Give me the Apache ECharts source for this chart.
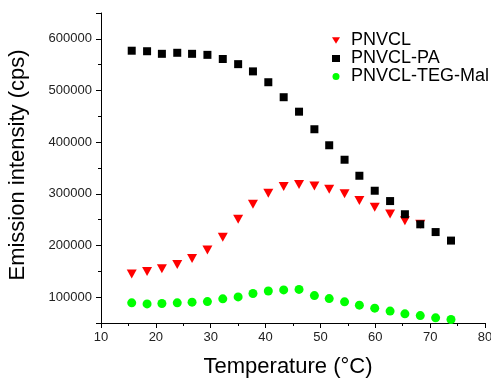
<!DOCTYPE html>
<html>
<head>
<meta charset="utf-8">
<script src="https://cdn.jsdelivr.net/npm/echarts@6/dist/echarts.min.js"></script>
<style>
html, body { margin: 0; padding: 0; background: #fff; }
#main { width: 491px; height: 381px; }
</style>
</head>
<body>
<div id="main"></div>
<script>
'use strict';
var temps = [15.6, 18.4, 21.1, 23.9, 26.6, 29.4, 32.2, 35.0, 37.7, 40.5, 43.3,
	46.1, 48.9, 51.6, 54.4, 57.1, 59.9, 62.7, 65.4, 68.2, 71.0, 73.8];
var pnvcl = [145000, 149500, 155000, 163000, 175000, 191500, 216000, 251000, 280000, 301000,
	314000, 318000, 315000, 309000, 300000, 287000, 274000, 261000, 248000, 241000];
var pnvclPa = [577000, 576000, 571000, 573000, 571000, 569000, 561000, 551000, 537000, 516000,
	487000, 459000, 425000, 394000, 366000, 335000, 306000, 286000, 260500, 241000, 226000, 209500];
var pnvclTeg = [89000, 87000, 87700, 89000, 90300, 91500, 96700, 100500, 107000, 112000, 114000,
	115000, 103000, 97300, 91000, 84500, 78700, 73000, 67700, 64400, 60000, 56700];
var names = ['PNVCL', 'PNVCL-PA', 'PNVCL-TEG-Mal'];

function pairs(vals) {
	return vals.map(function (v, i) { return [temps[i], v]; });
}

var font = 'Liberation Sans, Arial, sans-serif';
var chart = echarts.init(document.getElementById('main'));
chart.setOption({
	animation: false,
	textStyle: { fontFamily: font },
	grid: { left: 101, right: 6, top: 13, bottom: 58, containLabel: false, outerBoundsMode: 'none' },
	legend: {
		orient: 'vertical',
		left: 332,
		top: 31.5,
		padding: 0,
		itemGap: 0,
		itemWidth: 8,
		itemHeight: 7,
		textStyle: { fontSize: 18, color: '#000', fontFamily: font, lineHeight: 17, padding: [0, 0, 0, 6] },
		data: [
			{ name: names[0], icon: 'path://M0,0L10,0L5,8Z' },
			{ name: names[1], icon: 'rect' },
			{ name: names[2], icon: 'circle' }
		]
	},
	xAxis: {
		type: 'value',
		min: 10,
		max: 80,
		interval: 10,
		name: 'Temperature (°C)',
		nameLocation: 'middle',
		nameGap: 33,
		nameTextStyle: { fontSize: 22, color: '#000', fontFamily: font, padding: [0, 10, 0, 0] },
		axisLine: { lineStyle: { color: '#000', width: 1 } },
		axisTick: { length: 5, lineStyle: { color: '#000' } },
		minorTick: { show: true, splitNumber: 2, length: 3, lineStyle: { color: '#000' } },
		axisLabel: { fontSize: 13, color: '#222', margin: 8, fontFamily: font },
		splitLine: { show: false }
	},
	yAxis: [{
		type: 'value',
		min: 50000,
		max: 650000,
		splitNumber: 6,
		name: 'Emission intensity (cps)',
		nameLocation: 'middle',
		nameGap: 72,
		nameTextStyle: { fontSize: 22, color: '#000', fontFamily: font, padding: [0, 0, 0, 6] },
		axisLine: { show: true, lineStyle: { color: '#000', width: 1 } },
		axisTick: { show: true, length: 5, lineStyle: { color: '#000' } },
		axisLabel: {
			fontSize: 13, color: '#222', margin: 9, fontFamily: font,
			formatter: function (v) { return v % 100000 === 0 ? String(v) : ''; }
		},
		splitLine: { show: false }
	}, {
		type: 'value',
		position: 'left',
		min: 50000,
		max: 650000,
		interval: 100000,
		axisLine: { show: false },
		axisTick: { show: true, length: 3, lineStyle: { color: '#000' } },
		axisLabel: { show: false },
		splitLine: { show: false }
	}],
	series: [{
		name: names[0],
		type: 'scatter',
		symbol: 'triangle',
		symbolRotate: 180,
		symbolSize: [10, 9],
		itemStyle: { color: '#ff0000', opacity: 1 },
		data: pairs(pnvcl)
	}, {
		name: names[2],
		type: 'scatter',
		symbol: 'circle',
		symbolSize: 9,
		itemStyle: { color: '#00ff00', opacity: 1 },
		data: pairs(pnvclTeg)
	}, {
		name: names[1],
		type: 'scatter',
		symbol: 'rect',
		symbolSize: 8,
		itemStyle: { color: '#000', opacity: 1 },
		data: pairs(pnvclPa)
	}]
});
</script>
</body>
</html>
